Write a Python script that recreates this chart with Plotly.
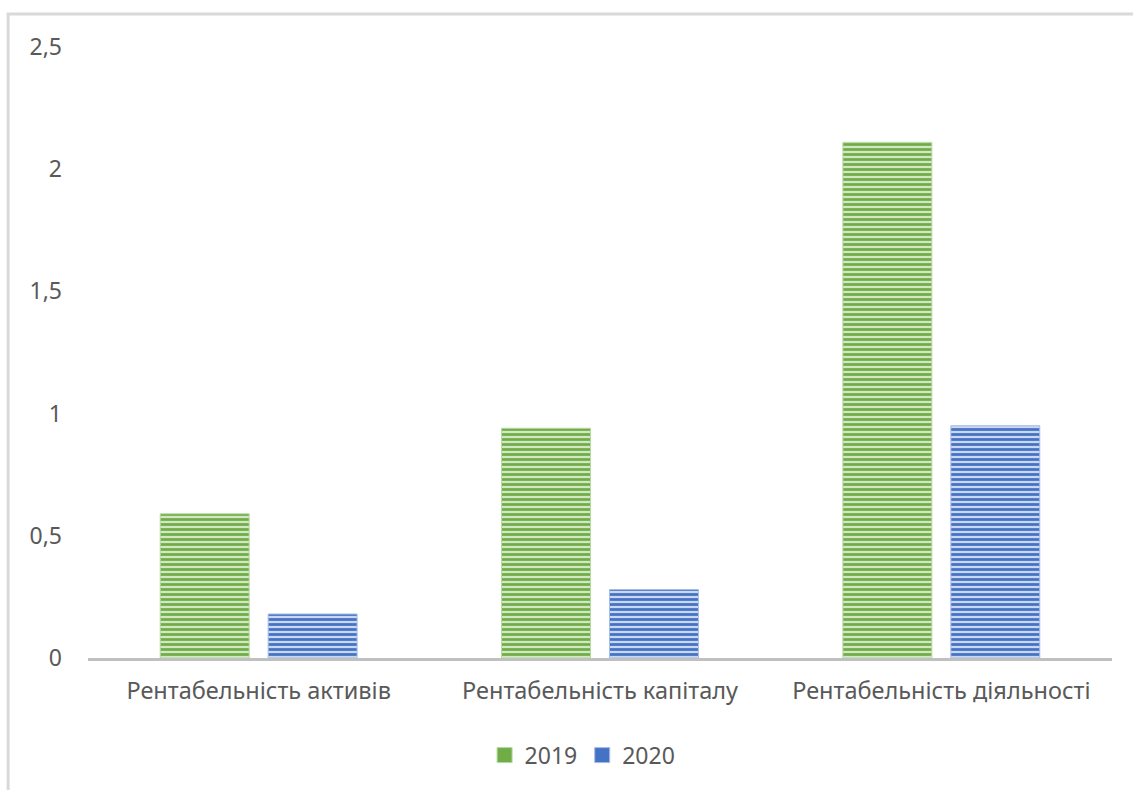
import plotly.graph_objects as go

# Profitability indicators, 2019 vs 2020
categories = ["Рентабельність активів", "Рентабельність капіталу", "Рентабельність діяльності"]
years = ["2019", "2020"]
values_2019 = [0.59, 0.94, 2.11]
values_2020 = [0.18, 0.28, 0.95]
y_ticks = [0, 0.5, 1, 1.5, 2, 2.5]

FONT = "Noto Sans"
TEXT = "#595959"

styles = {
    "2019": dict(main="#70AD47", edge="#b5d9a0", light="#d2e8c4"),
    "2020": dict(main="#4472C4", edge="#a6bde6", light="#c9d7f0"),
}

fig = go.Figure()
for year, vals in zip(years, [values_2019, values_2020]):
    s = styles[year]
    fig.add_trace(go.Bar(
        name=year, x=categories, y=vals, legendgroup=year, showlegend=False,
        marker=dict(
            color=s["main"],
            line=dict(color=s["edge"], width=1),
            pattern=dict(shape="-", fgcolor=s["main"], bgcolor=s["light"],
                         size=5, solidity=0.55, fillmode="replace"),
        ),
    ))
# larger square legend keys
for year in years:
    s = styles[year]
    fig.add_trace(go.Scatter(
        name=year, x=[categories[0]], y=[None], mode="markers", legendgroup=year,
        marker=dict(symbol="square", size=15, color=s["main"],
                    line=dict(color=s["edge"], width=1)),
        hoverinfo="skip",
    ))

# outer chart frame
fig.add_shape(type="rect", xref="paper", yref="paper",
              x0=-0.078, x1=1.2, y0=-0.5, y1=1.054,
              line=dict(color="#d9d9d9", width=3), fillcolor="rgba(0,0,0,0)",
              layer="below")

fig.update_layout(
    width=1133, height=790,
    margin=dict(l=88, r=21, t=47, b=132),
    paper_bgcolor="white", plot_bgcolor="white",
    barmode="group", bargap=0.3675, bargroupgap=0.176,
    separators=", ",
    font=dict(family=FONT, color=TEXT, size=23),
    showlegend=True,
    legend=dict(orientation="h", x=0.483, xanchor="center", y=-0.159, yanchor="middle",
                font=dict(size=23, color=TEXT), itemwidth=30, traceorder="normal"),
    xaxis=dict(showline=True, linecolor="#c0c0c0", linewidth=3, showgrid=False,
               ticks="", tickfont=dict(size=23.5, color=TEXT), ticklabelstandoff=10,
               fixedrange=True),
    yaxis=dict(range=[0, 2.5], tickvals=y_ticks, showgrid=False, zeroline=False,
               showline=False, ticks="", tickfont=dict(size=23, color=TEXT),
               ticklabelstandoff=25, fixedrange=True),
)

fig.write_html("out.html")
